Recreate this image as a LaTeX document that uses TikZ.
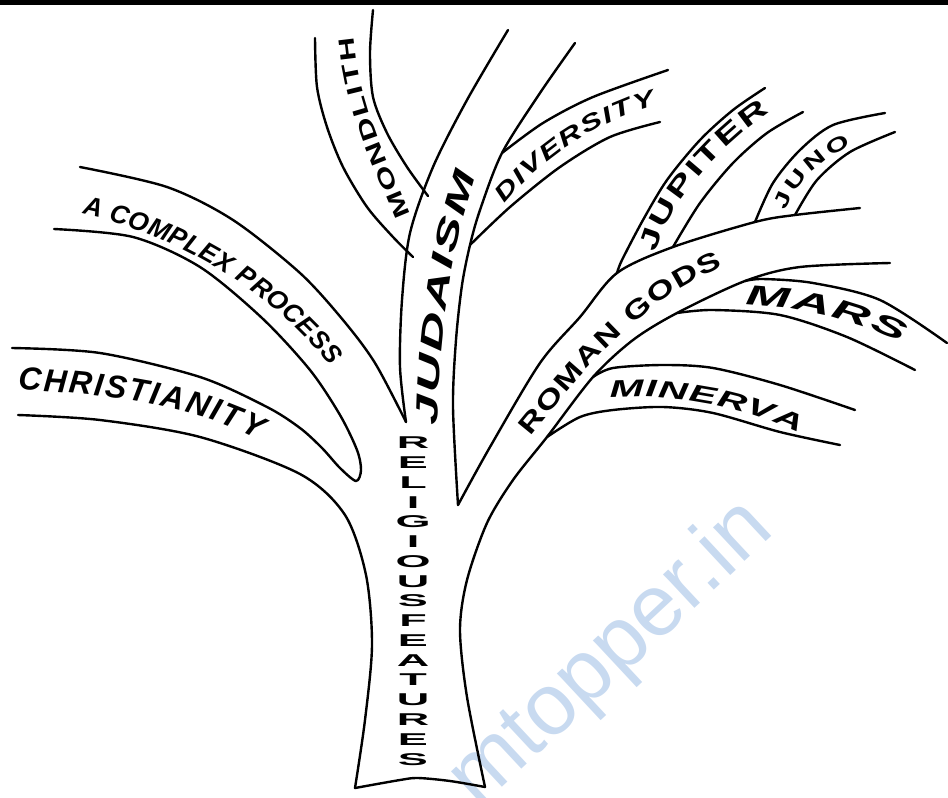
\documentclass[tikz,border=0pt]{standalone}
\usepackage{fontspec}
\setmainfont{Liberation Sans}
\newfontfamily\romanface[FakeStretch=1.35]{Liberation Sans Bold}
\newfontfamily\lithface[FakeStretch=1.5]{Liberation Sans Bold}
\newfontfamily\jupface[FakeStretch=1.55]{Liberation Sans Bold}
\newfontfamily\diverface[FakeStretch=1.4]{Liberation Sans Bold Italic}
\newfontfamily\judaface[FakeStretch=1.75]{Liberation Sans Bold Italic}
\newfontfamily\minface[FakeStretch=1.7]{Liberation Sans Bold Italic}
\newfontfamily\marsface[FakeStretch=1.9]{Liberation Sans Bold Italic}
\usetikzlibrary{decorations.text}

\definecolor{wmblue}{RGB}{200,218,240}

\newcommand\christfont{\fontsize{32}{32}\selectfont\bfseries\itshape}
\newcommand\processfont{\fontsize{26}{26}\selectfont\bfseries\itshape}
\newcommand\lithfont{\lithface\fontsize{22}{22}\selectfont}
\newcommand\judafont{\judaface\fontsize{31}{31}\selectfont}
\newcommand\diverfont{\diverface\fontsize{23}{23}\selectfont}
\newcommand\jupfont{\jupface\fontsize{26}{26}\selectfont}
\newcommand\junofont{\lithface\fontsize{20}{20}\selectfont}
\newcommand\romefont{\romanface\fontsize{26}{26}\selectfont}
\newcommand\marsfont{\marsface\fontsize{28}{28}\selectfont}
\newcommand\minfont{\minface\fontsize{24}{24}\selectfont}
\newcommand\featfont{\fontsize{45}{52}\selectfont\bfseries}
\newcommand\wmfont{\fontsize{87}{87}\selectfont}

\begin{document}
\begin{tikzpicture}[x=1pt, y=-1pt,
    limb/.style={line width=2.4pt, line cap=round, line join=round},
    bandtext/.style={decorate, decoration={text along path, text align=fit to path, text={#1}}}]
      \useasboundingbox (0,0) rectangle (948,798);
      \node[text=wmblue, rotate=43, inner sep=0pt] (wmark) at (612,655) {\wmfont mtopper.in};
      \fill (0,0) rectangle (948,5);

      \draw[limb] plot[smooth] coordinates {(18,415) (100,420) (200,437) (300,474) (345,515) (366,575) (372,645) (365,720) (355,788)};
      \draw[limb] plot[smooth] coordinates {(355,788) (400,780) (418,778) (450,781) (485,787)};
      \draw[limb] plot[smooth] coordinates {(485,787) (467,697) (460,630) (467,580) (487,523) (513,480) (547,437) (593,377) (633,340) (677,313) (745,281) (800,267) (890,263)};

      \draw[limb] plot[smooth] coordinates {(54,229) (133,237) (200,267) (262,318) (310,370) (340,415) (357,450) (361,470) (356,481) (340,468) (322,448) (300,428) (267,407) (200,377) (100,353) (12,348)};
      \draw[limb] plot[smooth] coordinates {(80,167) (167,187) (233,220) (300,273) (343,320) (375,363) (406,422)};

      \draw[limb] plot[smooth] coordinates {(315,38) (317,87) (327,127) (343,167) (367,207) (393,237) (413,257)};
      \draw[limb] plot[smooth] coordinates {(373,10) (370,53) (373,97) (387,133) (407,167) (428,196)};
      \draw[limb] plot[smooth] coordinates {(508,30) (467,100) (433,167) (410,233) (402,300) (400,367) (406,422)};
      \draw[limb] plot[smooth] coordinates {(575,43) (540,93) (502,153) (480,210) (470,245) (462,285) (456,340) (453,407) (458,505)};
      \draw[limb] plot[smooth] coordinates {(502,153) (543,123) (593,97) (668,70)};
      \draw[limb] plot[smooth] coordinates {(470,245) (510,207) (560,167) (610,137) (660,122)};

      \draw[limb] plot[smooth] coordinates {(458,505) (490,447) (540,363) (580,317) (617,273) (673,247) (755,222) (795,215) (860,208)};
      \draw[limb] plot[smooth] coordinates {(617,273) (622,260) (643,220) (667,180) (700,140) (733,110) (765,88)};
      \draw[limb] plot[smooth] coordinates {(673,247) (700,203) (733,163) (767,133) (803,112)};
      \draw[limb] plot[smooth] coordinates {(755,222) (773,183) (800,150) (833,125) (885,113)};
      \draw[limb] plot[smooth] coordinates {(795,215) (817,180) (850,152) (895,132)};
      \draw[limb] plot[smooth] coordinates {(745,281) (763,279) (813,283) (880,300) (947,343)};
      \draw[limb] plot[smooth] coordinates {(677,313) (713,310) (780,315) (847,337) (915,370)};
      \draw[limb] plot[smooth] coordinates {(593,377) (613,368) (663,365) (713,368) (780,385) (855,410)};
      \draw[limb] plot[smooth] coordinates {(547,437) (580,417) (613,410) (663,407) (713,413) (780,432) (840,445)};

      \path[bandtext={|\christfont|CHRISTIANITY}] (18,390) .. controls (110,393) and (200,408) .. (258,440);
      \path[bandtext={|\processfont|A COMPLEX PROCESS}] (82,214) .. controls (170,232) and (272,290) .. (330,366);
      \path[bandtext={|\lithfont|MONDLITH}] (410,215) .. controls (390,165) and (360,110) .. (354,37);
      \path[bandtext={|\judafont|JUDAISM}] (438,425) .. controls (440,340) and (448,260) .. (476,174);
      \path[bandtext={|\diverfont|DIVERSITY}] (505,204) .. controls (540,160) and (595,122) .. (656,105);
      \path[bandtext={|\jupfont|JUPITER}] (656,253) .. controls (668,205) and (715,150) .. (770,112);
      \path[bandtext={|\junofont|JUNO}] (786,211) .. controls (795,185) and (815,162) .. (851,146);
      \path[bandtext={|\romefont|ROMAN GODS}] (530,436) .. controls (580,375) and (640,300) .. (723,267);
      \path[bandtext={|\marsfont|MARS}] (745,305) .. controls (790,305) and (850,318) .. (902,343);
      \path[bandtext={|\minfont|MINERVA}] (610,398) .. controls (670,393) and (740,405) .. (800,433);

      \node[inner sep=0pt] (feat) at (413,603) {\scalebox{1}[0.38]{\featfont\begin{tabular}{@{}c@{}}R\\E\\L\\I\\G\\I\\O\\U\\S\\F\\E\\A\\T\\U\\R\\E\\S\end{tabular}}};
    \end{tikzpicture}
\end{document}
